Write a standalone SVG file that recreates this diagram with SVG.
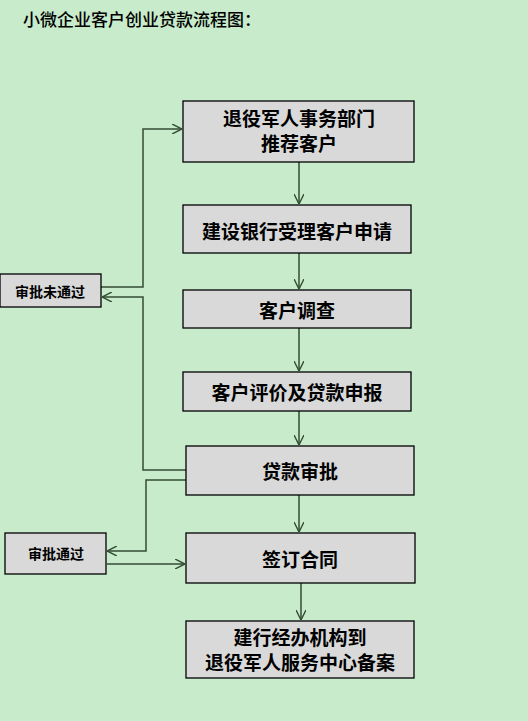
<svg xmlns="http://www.w3.org/2000/svg" width="528" height="721" viewBox="0 0 528 721">
<defs>
<style>
.box{fill:#D9D9D9;stroke:#000;stroke-width:1.3}
.t{font-family:"Noto Sans CJK SC","Noto Sans",sans-serif;font-weight:bold;font-size:19px;fill:#000;text-anchor:middle}
.s{font-family:"Noto Sans CJK SC","Noto Sans",sans-serif;font-weight:bold;font-size:14px;fill:#000;text-anchor:middle}
.c{fill:none;stroke:#344C34;stroke-width:1.5}
</style>
<marker id="ah" viewBox="0 0 10 10" refX="10" refY="5" markerWidth="10" markerHeight="10" markerUnits="userSpaceOnUse" orient="auto">
<path d="M0,0 L10,5 L0,10" fill="none" stroke="#344C34" stroke-width="1.4"/>
</marker>
</defs>
<rect width="528" height="721" fill="#C7EBCB"/>
<text x="23" y="26" font-family="'Noto Sans CJK SC','Noto Sans',sans-serif" font-size="17" font-weight="500" fill="#000">小微企业客户创业贷款流程图：</text>
<g id="connectors">
<path class="c" d="M299,162 V204" marker-end="url(#ah)"/>
<path class="c" d="M299,253 V289" marker-end="url(#ah)"/>
<path class="c" d="M299,328 V371" marker-end="url(#ah)"/>
<path class="c" d="M299,411 V445" marker-end="url(#ah)"/>
<path class="c" d="M299,495 V532" marker-end="url(#ah)"/>
<path class="c" d="M301,583 V620" marker-end="url(#ah)"/>
<path class="c" d="M101,287 H143 V129 H182" marker-end="url(#ah)"/>
<path class="c" d="M186,470 H143 V297 H102" marker-end="url(#ah)"/>
<path class="c" d="M186,480 H146 V551 H107" marker-end="url(#ah)"/>
<path class="c" d="M107,564 H185" marker-end="url(#ah)"/>
</g>
<g id="n1"><rect class="box" x="183" y="101" width="231" height="61"/><text class="t" x="299" y="126">退役军人事务部门</text><text class="t" x="299" y="151">推荐客户</text></g>
<g id="n2"><rect class="box" x="183" y="205" width="228" height="48"/><text class="t" x="297" y="239">建设银行受理客户申请</text></g>
<g id="n3"><rect class="box" x="183" y="290" width="228" height="38"/><text class="t" x="297" y="318">客户调查</text></g>
<g id="n4"><rect class="box" x="183" y="372" width="228" height="39"/><text class="t" x="297" y="400">客户评价及贷款申报</text></g>
<g id="n5"><rect class="box" x="186" y="446" width="228" height="49"/><text class="t" x="300" y="479">贷款审批</text></g>
<g id="n6"><rect class="box" x="186" y="533" width="229" height="50"/><text class="t" x="300" y="567">签订合同</text></g>
<g id="n7"><rect class="box" x="186" y="621" width="228" height="57"/><text class="t" x="300" y="645">建行经办机构到</text><text class="t" x="300" y="670">退役军人服务中心备案</text></g>
<g id="r1"><rect class="box" x="0" y="274" width="101" height="33"/><text class="s" x="50" y="297">审批未通过</text></g>
<g id="r2"><rect class="box" x="5" y="533" width="101" height="41"/><text class="s" x="56" y="559">审批通过</text></g>
</svg>
